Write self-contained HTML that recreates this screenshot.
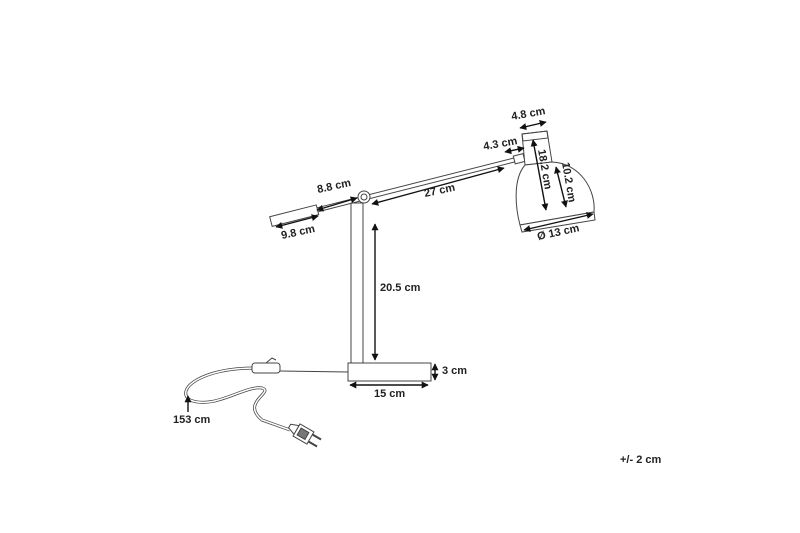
<!DOCTYPE html>
<html><head><style>
html,body{margin:0;padding:0;background:#fff;}
svg{display:block;}
text{font-family:"Liberation Sans",sans-serif;font-weight:bold;font-size:11px;fill:#222;}
</style></head><body>
<svg width="800" height="533" viewBox="0 0 800 533">
<defs>
<marker id="a" viewBox="0 0 10 10" refX="9" refY="5" markerWidth="5" markerHeight="5" orient="auto-start-reverse"><path d="M0,0L10,5L0,10z" fill="#111"/></marker>
</defs>
<g fill="none" stroke="#444" stroke-width="1">
<rect x="351" y="203" width="12" height="160" fill="#fff"/>
<rect x="348" y="363" width="83" height="18" fill="#fff"/>
<path d="M348,372 L280,371" />
<path d="M255,368 C200,368 175,390 190,400 C215,410 245,385 262,388 C275,392 240,402 262,420 L290,430" stroke-width="3"/>
<path d="M255,368 C200,368 175,390 190,400 C215,410 245,385 262,388 C275,392 240,402 262,420 L290,430" stroke="#fff" stroke-width="1.5"/>
<rect x="252" y="363" width="28" height="10" rx="3" fill="#fff"/>
<path d="M266,363 l6,-5 l4,2"/>
<g transform="translate(300,432) rotate(30)">
<path d="M-12,-2 L-4,-5 L-4,5 L-12,2z" fill="#fff"/>
<rect x="-4" y="-7" width="16" height="14" fill="#fff"/>
<rect x="-1" y="-4" width="9" height="8" fill="#777"/>
<path d="M12,-4 h10 M12,4 h10" stroke-width="2"/>
</g>
<g transform="translate(364,198) rotate(-14.2)">
<path d="M-50,-2 L155,-2 M-50,2 L155,2"/>
<rect x="-96" y="-5" width="48" height="10" fill="#fff"/>
<rect x="155" y="-4" width="10" height="8" fill="#fff"/>
</g>
<circle cx="364" cy="197" r="6" fill="#fff"/>
<circle cx="364" cy="197" r="3"/>
<path d="M522,134 L547,131 L552,162 L525,165z" fill="#fff"/>
<path d="M522,134 L547,131 L548,138 L523,141z"/>
<path d="M525,165 C512,180 516,210 520,225 L594,212 C596,190 580,163 552,162 Z" fill="#fff"/>
<path d="M520,225 L594,212 L595,220 L522,232 Z" fill="#fff"/>
</g>
<g stroke="#111" stroke-width="1.4" fill="none" marker-start="url(#a)" marker-end="url(#a)">
<line x1="375" y1="360" x2="375" y2="224"/>
<line x1="350" y1="385" x2="428" y2="385"/>
<line x1="435" y1="364" x2="435" y2="380"/>
<line x1="188" y1="396" x2="188" y2="412" marker-end="none"/>
<line x1="276" y1="227" x2="318" y2="216"/>
<line x1="317" y1="210" x2="357" y2="198"/>
<line x1="372" y1="204" x2="504" y2="168"/>
<line x1="505" y1="152" x2="524" y2="148"/>
<line x1="520" y1="128" x2="546" y2="122"/>
<line x1="533" y1="140" x2="546" y2="210"/>
<line x1="556" y1="167" x2="566" y2="207"/>
<line x1="524" y1="230" x2="593" y2="214"/>
</g>
<text x="380" y="291">20.5 cm</text>
<text x="374" y="397">15 cm</text>
<text x="442" y="374">3 cm</text>
<text x="173" y="423">153 cm</text>
<text x="282" y="239" transform="rotate(-12 282 239)">9.8 cm</text>
<text x="318" y="193" transform="rotate(-12 318 193)">8.8 cm</text>
<text x="425" y="197" transform="rotate(-12 425 197)">27 cm</text>
<text x="484" y="150" transform="rotate(-10 484 150)">4.3 cm</text>
<text x="512" y="120" transform="rotate(-10 512 120)">4.8 cm</text>
<text x="538" y="150" transform="rotate(80 538 150)">18.2 cm</text>
<text x="562" y="163" transform="rotate(80 562 163)">10.2 cm</text>
<text x="538" y="240" transform="rotate(-12 538 240)">Ø 13 cm</text>
<text x="620" y="463">+/- 2 cm</text>
</svg>
</body></html>
